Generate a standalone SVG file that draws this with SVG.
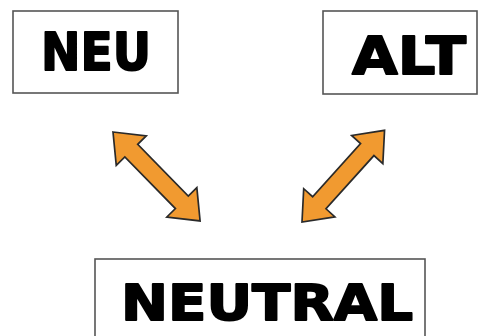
<svg xmlns="http://www.w3.org/2000/svg" width="478" height="336" viewBox="0 0 478 336">
<style>
.box{fill:#fff;stroke:#555;stroke-width:1.6}
.lbl{font-family:"DejaVu Sans",Verdana,sans-serif;font-weight:bold;fill:#000;stroke:#000;stroke-width:1.8;stroke-linejoin:round}
.arr{fill:#F19A30;stroke:#2a2a2a;stroke-width:1.7;stroke-linejoin:miter}
</style>
<defs>
<polygon id="dbl" points="0,0 26,-21 26,-9 98,-9 98,-21 124,0 98,21 98,9 26,9 26,21"/>
</defs>
<rect width="478" height="336" fill="#fff"/>
<g id="neu">
<rect class="box" x="13" y="11" width="165" height="82"/>
<text class="lbl" x="41" y="69.5" font-size="51" textLength="110" lengthAdjust="spacingAndGlyphs">NEU</text>
</g>
<g id="alt">
<rect class="box" x="323" y="11" width="154" height="83"/>
<text class="lbl" x="352" y="73.5" font-size="52" textLength="114" lengthAdjust="spacingAndGlyphs">ALT</text>
</g>
<g id="neutral">
<rect class="box" x="95" y="259" width="330" height="90"/>
<text class="lbl" x="121" y="319.5" font-size="50" textLength="292" lengthAdjust="spacingAndGlyphs">NEUTRAL</text>
</g>
<g id="connectors">
<use href="#dbl" class="arr" transform="translate(113,132) rotate(45.6) scale(1.004,1)"/>
<use href="#dbl" class="arr" transform="translate(302,222) rotate(-48) scale(0.995,1)"/>
</g>
</svg>
